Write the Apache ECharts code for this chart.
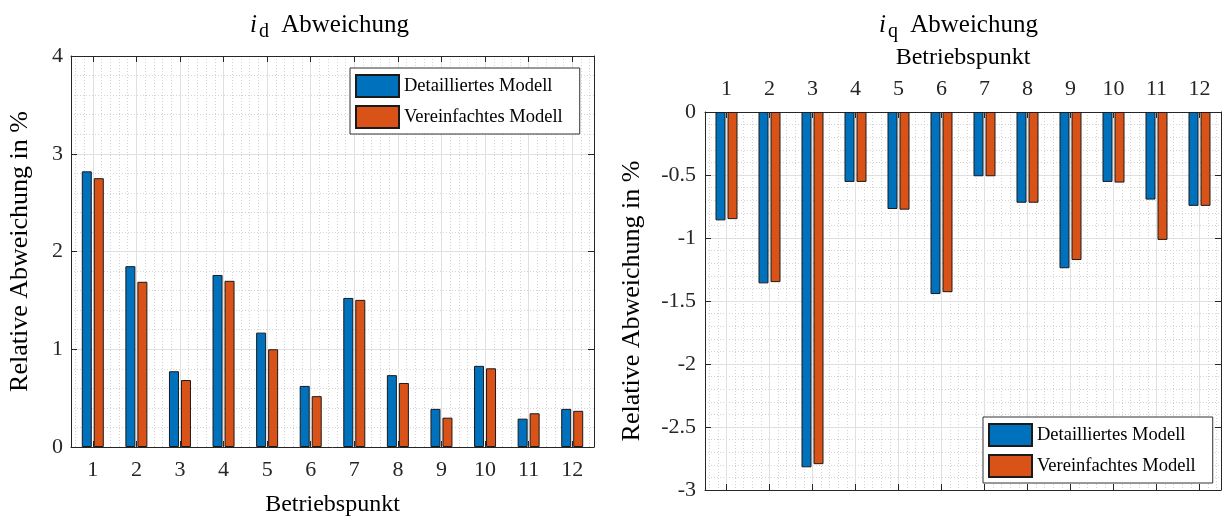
<!DOCTYPE html>
<html>
<head>
<meta charset="utf-8">
<script src="https://cdn.jsdelivr.net/npm/echarts@6/dist/echarts.min.js"></script>
<style>
  html, body { margin: 0; padding: 0; background: #ffffff; }
  #chart { width: 1224px; height: 522px; }
</style>
</head>
<body>
<div id="chart"></div>
<script>
// Operating points (x categories) shared by both panels
const operatingPoints = [1, 2, 3, 4, 5, 6, 7, 8, 9, 10, 11, 12];

// Relative deviation of i_d in %
const idDetailed   = [2.82, 1.85, 0.775, 1.76, 1.17, 0.625, 1.525, 0.735, 0.39, 0.83, 0.29, 0.39];
const idSimplified = [2.75, 1.69, 0.685, 1.70, 1.00, 0.52, 1.505, 0.655, 0.30, 0.805, 0.345, 0.37];

// Relative deviation of i_q in %
const iqDetailed   = [-0.86, -1.36, -2.82, -0.555, -0.77, -1.445, -0.51, -0.72, -1.24, -0.555, -0.695, -0.745];
const iqSimplified = [-0.85, -1.35, -2.795, -0.555, -0.775, -1.43, -0.51, -0.72, -1.175, -0.56, -1.015, -0.745];

const seriesNames = ['Detailliertes Modell', 'Vereinfachtes Modell'];
const panelTitles = [['i', 'd'], ['i', 'q']];
const xAxisTitle = 'Betriebspunkt';
const yAxisTitle = 'Relative Abweichung in %';

// y ranges of the two panels
const idRange = { min: 0, max: 4, step: 1 };
const iqRange = { min: -3, max: 0, step: 0.5 };

const FONT = 'Liberation Serif';
const INK = '#262626';
const COLORS = ['#0072BD', '#D95319'];

const axisLine = { show: true, onZero: false, lineStyle: { color: INK, width: 1 } };
const tick = { show: true, inside: true, length: 6, lineStyle: { color: INK, width: 1 } };
const majorGrid = { show: true, lineStyle: { color: '#e0e0e0', width: 1 } };
const minorGrid = { show: true, lineStyle: { color: '#d4d4d4', width: 1, type: [1, 2] } };

function xAxisDef(gridIndex, position, withLabels, nameGap) {
  const ax = {
    type: 'value', gridIndex, position,
    min: 0.5, max: 12.5, splitNumber: 12, minInterval: 1, maxInterval: 1,
    axisLine, axisTick: tick,
    axisLabel: {
      show: withLabels, margin: 12,
      fontFamily: FONT, fontSize: 22, color: INK,
      formatter: v => Number.isInteger(v) ? String(v) : ''
    },
    splitLine: withLabels ? majorGrid : { show: false },
    minorTick: { show: false, splitNumber: 5 },
    minorSplitLine: withLabels ? minorGrid : { show: false }
  };
  if (withLabels) {
    ax.name = xAxisTitle;
    ax.nameLocation = 'middle';
    ax.nameGap = nameGap;
    ax.nameTextStyle = { fontFamily: FONT, fontSize: 24, color: '#000' };
  }
  return ax;
}

function yAxisDef(gridIndex, position, range, withLabels, margin, nameGap) {
  const ax = {
    type: 'value', gridIndex, position,
    min: range.min, max: range.max, interval: range.step,
    axisLine, axisTick: tick,
    axisLabel: { show: withLabels, margin, fontFamily: FONT, fontSize: 22, color: INK },
    splitLine: withLabels ? majorGrid : { show: false },
    minorTick: { show: false, splitNumber: 5 },
    minorSplitLine: withLabels ? minorGrid : { show: false }
  };
  if (withLabels) {
    ax.name = yAxisTitle;
    ax.nameLocation = 'middle';
    ax.nameGap = nameGap;
    ax.nameTextStyle = { fontFamily: FONT, fontSize: 26, color: '#000' };
  }
  return ax;
}

function titleDef(parts, left) {
  return {
    text: '{i|' + parts[0] + '}{s|' + parts[1] + '}{t| Abweichung}',
    left, top: 8, textAlign: 'left', padding: 0,
    textStyle: {
      fontWeight: 'normal',
      rich: {
        i: { fontFamily: FONT, fontStyle: 'italic', fontWeight: 'normal', fontSize: 25, lineHeight: 34, color: '#000' },
        s: { fontFamily: FONT, fontWeight: 'normal', fontSize: 20, lineHeight: 20, verticalAlign: 'bottom',
             padding: [0, 6, 0, 2], color: '#000' },
        t: { fontFamily: FONT, fontWeight: 'normal', fontSize: 25, lineHeight: 34, color: '#000' }
      }
    }
  };
}

function legendDef(left, top) {
  return {
    show: true, orient: 'vertical', left, top,
    data: seriesNames, selectedMode: false, icon: 'rect',
    itemWidth: 43, itemHeight: 22, itemGap: 7,
    padding: [6, 17, 5, 5],
    backgroundColor: '#ffffff', borderColor: '#333333', borderWidth: 1, borderRadius: 0,
    textStyle: { fontFamily: FONT, fontSize: 18.5, color: '#000' }
  };
}

function barSeries(name, values, colorIdx, xIdx, yIdx) {
  return {
    type: 'bar', name, xAxisIndex: xIdx, yAxisIndex: yIdx,
    data: operatingPoints.map((p, i) => [p, values[i]]),
    barWidth: 10, barGap: '20%',
    itemStyle: { color: COLORS[colorIdx], borderColor: '#1a1a1a', borderWidth: 1 },
    emphasis: { disabled: true }
  };
}

const chart = echarts.init(document.getElementById('chart'), null, { renderer: 'canvas' });
chart.setOption({
  backgroundColor: '#ffffff',
  animation: false,
  title: [titleDef(panelTitles[0], 250), titleDef(panelTitles[1], 879)],
  legend: [legendDef(350, 68), legendDef(983, 417)],
  grid: [
    { left: 71, top: 56, width: 523, height: 397, containLabel: false },
    { left: 705, top: 112, width: 521, height: 378, containLabel: false }
  ],
  xAxis: [
    xAxisDef(0, 'bottom', true, 46),
    xAxisDef(0, 'top', false),
    xAxisDef(1, 'top', true, 42),
    xAxisDef(1, 'bottom', false)
  ],
  yAxis: [
    yAxisDef(0, 'left', idRange, true, 8, 38),
    yAxisDef(0, 'right', idRange, false, 8),
    yAxisDef(1, 'left', iqRange, true, 9, 60),
    yAxisDef(1, 'right', iqRange, false, 9)
  ],
  series: [
    barSeries(seriesNames[0], idDetailed, 0, 0, 0),
    barSeries(seriesNames[1], idSimplified, 1, 0, 0),
    barSeries(seriesNames[0], iqDetailed, 0, 2, 2),
    barSeries(seriesNames[1], iqSimplified, 1, 2, 2)
  ]
});
</script>
</body>
</html>
